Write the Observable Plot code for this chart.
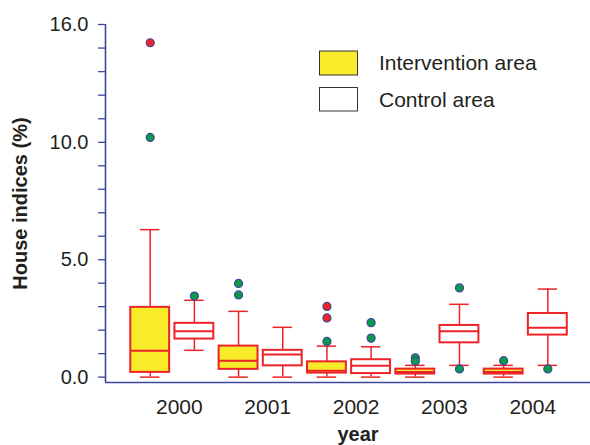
<!DOCTYPE html>
<html>
<head>
<meta charset="utf-8">
<script src="https://cdn.jsdelivr.net/npm/d3@7"></script>
<script src="https://cdn.jsdelivr.net/npm/@observablehq/plot@0.6"></script>
<style>
  html, body { margin: 0; padding: 0; background: #fff; }
  #chart svg { font-family: "Liberation Sans", Arial, Helvetica, sans-serif; display: block; }
</style>
</head>
<body>
<div id="chart"></div>
<script>
// ---- data ----
const years = [2000, 2001, 2002, 2003, 2004];
const groups = ["Intervention area", "Control area"];

const intervLo  = [0.00, 0.00, 0.00, 0.00, 0.00];
const intervQ1  = [0.20, 0.33, 0.17, 0.13, 0.13];
const intervMed = [1.12, 0.70, 0.27, 0.22, 0.22];
const intervQ3  = [2.97, 1.32, 0.65, 0.34, 0.34];
const intervHi  = [6.28, 2.80, 1.32, 0.50, 0.50];

const controlLo  = [1.14, 0.00, 0.00, 0.50, 0.50];
const controlQ1  = [1.62, 0.48, 0.15, 1.46, 1.79];
const controlMed = [1.95, 0.96, 0.48, 1.95, 2.10];
const controlQ3  = [2.29, 1.14, 0.74, 2.20, 2.71];
const controlHi  = [3.27, 2.12, 1.29, 3.10, 3.75];

// outliers: year, group, value, kind (mild / extreme)
const outlierYear  = [2000, 2000, 2000, 2001, 2001, 2002, 2002, 2002, 2002, 2002, 2003, 2003, 2003, 2003, 2004, 2004];
const outlierGroup = ["I", "I", "C", "I", "I", "I", "I", "I", "C", "C", "I", "I", "C", "C", "I", "C"];
const outlierValue = [15.07, 10.25, 3.45, 3.99, 3.50, 3.01, 2.52, 1.52, 2.32, 1.66, 0.82, 0.68, 3.80, 0.35, 0.70, 0.35];
const outlierKind  = ["extreme", "mild", "mild", "mild", "mild", "extreme", "extreme", "mild", "mild", "mild", "mild", "mild", "mild", "mild", "mild", "mild"];

const yMajorTicks = [0, 5, 10, 16];
const yMinorTicks = [1, 2, 3, 4, 6, 7, 8, 9, 11.2, 12.4, 13.6, 14.8];
const yLabel = "House indices (%)";
const xLabel = "year";

// ---- layout / style ----
const RED = "#ec2328";
const YELLOW = "#f7eb2a";
const NAVY = "#3d469c";
const GREEN = "#0b9a4b";
const TEXT = "#231f20";
const offsetI = -0.33, offsetC = 0.17, boxHalf = 0.22, capHalf = 0.11;

const rows = [];
years.forEach((yr, i) => {
  rows.push({year: yr, g: "I", x: yr + offsetI, lo: intervLo[i], q1: intervQ1[i], med: intervMed[i], q3: intervQ3[i], hi: intervHi[i]});
  rows.push({year: yr, g: "C", x: yr + offsetC, lo: controlLo[i], q1: controlQ1[i], med: controlMed[i], q3: controlQ3[i], hi: controlHi[i]});
});
const outliers = outlierValue.map((v, i) => ({
  x: outlierYear[i] + (outlierGroup[i] === "I" ? offsetI : offsetC),
  y: v,
  kind: outlierKind[i]
}));

const xDomain = [1999.164, 2004.653];
const yDomain = [-0.23, 10, 16];

const plot = Plot.plot({
  width: 590,
  height: 445,
  marginLeft: 105,
  marginRight: 0,
  marginTop: 24,
  marginBottom: 63,
  style: {background: "#fff", color: TEXT, fontSize: "20px"},
  x: {type: "linear", domain: xDomain, axis: null},
  y: {type: "linear", domain: yDomain, range: [382, 141.8, 24], axis: null},
  marks: [
    // frame lines (left and bottom)
    Plot.ruleX([xDomain[0]], {y1: yDomain[0], y2: 16, stroke: NAVY, strokeWidth: 1.6}),
    Plot.ruleY([yDomain[0]], {x1: xDomain[0], x2: xDomain[1], stroke: NAVY, strokeWidth: 1.6}),
    // y axis ticks
    Plot.axisY(yMinorTicks, {anchor: "left", tickSize: 7, stroke: NAVY, strokeWidth: 1.3, text: null, label: null}),
    Plot.axisY(yMajorTicks, {anchor: "left", tickSize: 7, tickPadding: 10, stroke: NAVY, strokeWidth: 1.3, fill: TEXT,
      fontSize: 20, tickFormat: d => d.toFixed(1), label: null}),
    // x axis labels
    Plot.axisX(years, {anchor: "bottom", tickSize: 0, tickPadding: 17, fill: TEXT, fontSize: 21,
      tickFormat: d => String(d), label: null}),
    // whiskers
    Plot.ruleX(rows, {x: "x", y1: "lo", y2: "q1", stroke: RED, strokeWidth: 1.5}),
    Plot.ruleX(rows, {x: "x", y1: "q3", y2: "hi", stroke: RED, strokeWidth: 1.5}),
    Plot.ruleY(rows, {y: "hi", x1: d => d.x - capHalf, x2: d => d.x + capHalf, stroke: RED, strokeWidth: 1.5}),
    Plot.ruleY(rows, {y: "lo", x1: d => d.x - capHalf, x2: d => d.x + capHalf, stroke: RED, strokeWidth: 1.5}),
    // boxes
    Plot.rect(rows, {x1: d => d.x - boxHalf, x2: d => d.x + boxHalf, y1: "q1", y2: "q3",
      fill: d => d.g === "I" ? YELLOW : "#ffffff", stroke: RED, strokeWidth: 2}),
    Plot.ruleY(rows, {y: "med", x1: d => d.x - boxHalf, x2: d => d.x + boxHalf, stroke: RED, strokeWidth: 2}),
    // outliers
    Plot.dot(outliers, {x: "x", y: "y", r: 4, fill: d => d.kind === "extreme" ? RED : GREEN, stroke: NAVY, strokeWidth: 1.2}),
    // axis titles
    Plot.text([yLabel], {frameAnchor: "left", dx: -85, rotate: -90, text: d => d, textAnchor: "middle", fontWeight: "bold", fontSize: 20, fill: TEXT, lineAnchor: "middle"}),
    Plot.text([xLabel], {frameAnchor: "bottom", dx: 10, dy: 52, text: d => d, textAnchor: "middle", fontWeight: "bold", fontSize: 20, fill: TEXT, lineAnchor: "middle"})
  ]
});

// legend
const lg = d3.select(plot).append("g").attr("class", "legend").attr("text-anchor", "start");
const legendRows = [
  {label: groups[0], fill: YELLOW, y: 51, h: 24},
  {label: groups[1], fill: "#ffffff", y: 87.5, h: 23.5}
];
legendRows.forEach(r => {
  lg.append("rect").attr("x", 319.5).attr("y", r.y).attr("width", 38).attr("height", r.h)
    .attr("fill", r.fill).attr("stroke", "#333").attr("stroke-width", 1);
  lg.append("text").attr("x", 379).attr("y", r.y + r.h / 2).attr("dy", "0.35em")
    .attr("text-anchor", "start").attr("font-size", 21).attr("fill", TEXT).text(r.label);
});

document.getElementById("chart").appendChild(plot);
</script>
</body>
</html>
